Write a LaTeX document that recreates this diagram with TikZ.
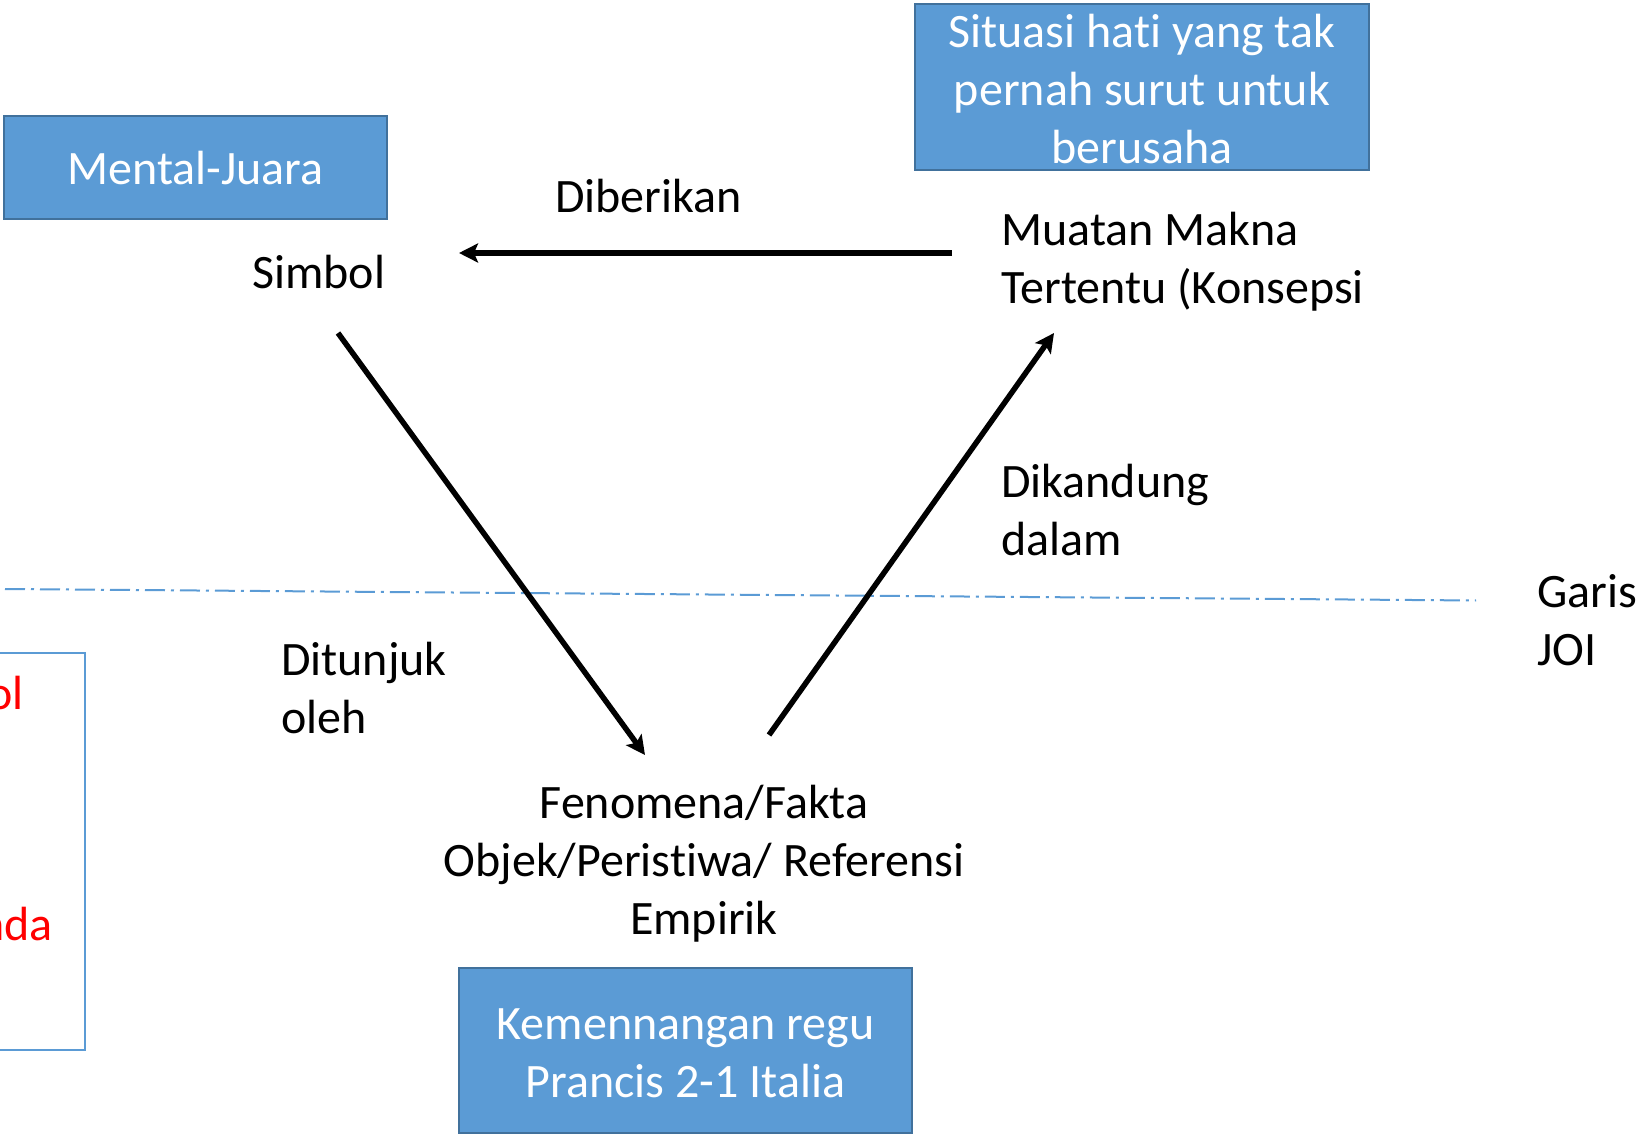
\documentclass[tikz,border=0pt]{standalone}
\usepackage{fontspec}
\setmainfont{Carlito}[Ligatures=NoCommon]
\usetikzlibrary{arrows.meta}
\definecolor{boxfill}{HTML}{5B9BD5}
\definecolor{boxline}{HTML}{41719C}
\definecolor{joiline}{HTML}{5B9BD5}
\begin{document}
\begin{tikzpicture}[x=1pt,y=-1pt,
  lbl/.style={inner sep=0pt,font=\fontsize{48}{58}\selectfont,align=left},
  bluebox/.style={draw=boxline,line width=2.5pt,fill=boxfill,inner sep=0pt},
  boxtext/.style={inner sep=0pt,text=white,font=\fontsize{48}{58}\selectfont,align=center},
  arr/.style={line width=5.5pt,-{Stealth[length=19pt,width=19pt,inset=4pt]}},
  joi/.style={draw=joiline,line width=2pt,dash pattern=on 20pt off 6pt on 3pt off 6pt}]
\useasboundingbox (0,0) rectangle (1639,1139);

% blue label boxes
\node[bluebox,minimum width=383pt,minimum height=103pt] (mental) at (195.5,167.5) {};
\node[boxtext] (mentalT) at (195.5,168.5) {Mental-Juara};
\node[bluebox,minimum width=454pt,minimum height=166pt] (situasi) at (1142,87) {};
\node[boxtext] (situasiT) at (1142,89) {Situasi hati yang tak\\pernah surut untuk\\berusaha};
\node[bluebox,minimum width=453pt,minimum height=165pt] (menang) at (685.5,1050.5) {};
\node[boxtext] (menangT) at (685.5,1053.5) {Kemennangan regu\\Prancis 2-1 Italia};

% side box with red labels
\draw[draw=joiline,line width=2.5pt] (-10,653) rectangle (85,1050);
\node[lbl,anchor=east,text=red] (rA) at (24,693) {ol};
\node[lbl,anchor=east,text=red] (rB) at (53,924) {nda};

% corners of the triangle
\node[lbl,anchor=west] (simbol) at (252,272) {Simbol};
\node[lbl,anchor=west] (muatan) at (1001,261.5) {Muatan Makna\\Tertentu (Konsepsi};
\node[lbl,align=center] (fenomena) at (704,863.5) {Fenomena/Fakta\\Objek/Peristiwa/ Referensi\\Empirik};

% edge labels
\node[lbl,anchor=west] (diberikan) at (555,196) {Diberikan};
\node[lbl,anchor=west] (dikandung) at (1001,510.5) {Dikandung\\dalam};
\node[lbl,anchor=west] (ditunjuk) at (281,688) {Ditunjuk\\oleh};
\node[lbl,anchor=west] (garis) at (1537,620) {Garis\\JOI};

% arrow end points
\coordinate (muatanOut) at (952,253);
\coordinate (simbolIn) at (459,253);
\coordinate (simbolOut) at (338,333);
\coordinate (fenIn) at (645,755);
\coordinate (fenOut) at (769,735);
\coordinate (muatanIn) at (1054,333);
\coordinate (joiL) at (5,589);
\coordinate (joiR) at (1476,600.5);

% dash-dot JOI line
\draw[joi] (joiL) -- (joiR);

% arrows
\draw[arr] (muatanOut) -- (simbolIn);
\draw[arr] (simbolOut) -- (fenIn);
\draw[arr] (fenOut) -- (muatanIn);
\end{tikzpicture}
\end{document}
